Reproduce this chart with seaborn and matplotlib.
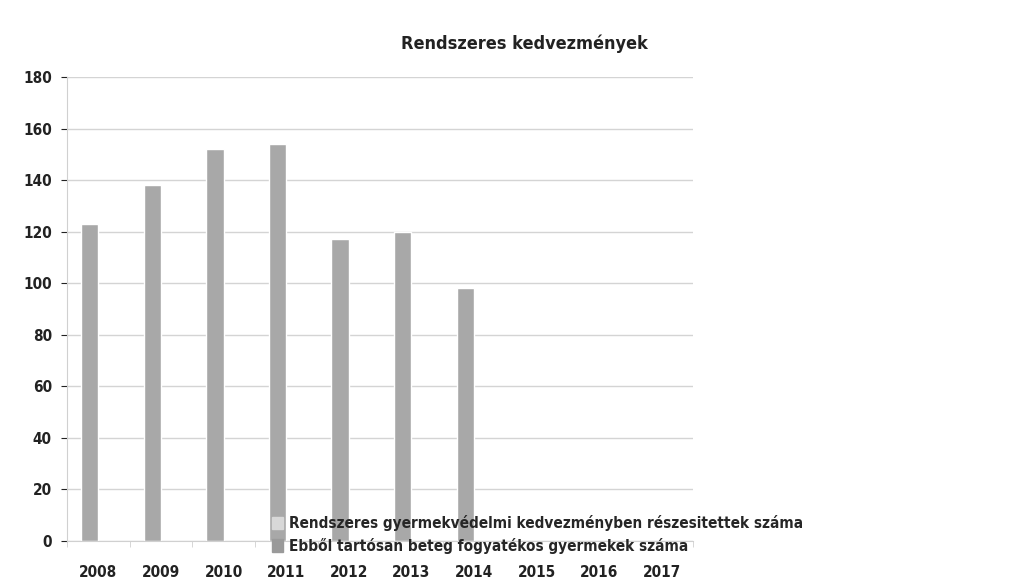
import numpy as np
import pandas as pd
import seaborn as sns
import matplotlib.pyplot as plt

# Chart data
years = ['2008', '2009', '2010', '2011', '2012', '2013', '2014', '2015', '2016', '2017']
rendszeres = [123, 138, 152, 154, 117, 120, 98, np.nan, np.nan, np.nan]
tartosan_beteg = [0, 0, 0, 0, 0, 0, 0, np.nan, np.nan, np.nan]
series_names = ['Rendszeres gyermekvédelmi kedvezményben részesitettek száma',
                'Ebből tartósan beteg fogyatékos gyermekek száma']

df = pd.DataFrame({'év': years, series_names[0]: rendszeres, series_names[1]: tartosan_beteg})
df = df.melt(id_vars='év', var_name='sorozat', value_name='érték')

sns.set_style('white')
plt.rcParams['font.family'] = ['DejaVu Sans']
plt.rcParams['font.stretch'] = 'condensed'

fig = plt.figure(figsize=(10.33, 5.83), dpi=100)
ax = fig.add_axes([0.065, 0.072, 0.606, 0.796])

sns.barplot(data=df, x='év', y='érték', hue='sorozat', palette=['#a8a8a8', '#9a9a9a'],
            width=0.56, gap=0.0, ax=ax, legend=False)

ax.set_xlim(-0.5, 9.5)
ax.set_ylim(0, 180)
ax.set_yticks(range(0, 181, 20))
ax.yaxis.grid(True, color='#d4d4d4', linewidth=1.0)
ax.set_axisbelow(True)
ax.set_xlabel('')
ax.set_ylabel('')
for side in ['top', 'right']:
    ax.spines[side].set_visible(False)
ax.spines['left'].set_color('#d0d0d0')
ax.spines['bottom'].set_color('#d0d0d0')

# small category-boundary ticks like the Excel original
ax.set_xticks(np.arange(-0.5, 10, 1), minor=True)
ax.tick_params(axis='x', which='minor', length=4, color='#d0d0d0', bottom=True)
ax.tick_params(axis='y', which='major', left=True, length=4, color='#d0d0d0')
ax.tick_params(axis='y', labelsize=11, pad=7, colors='#222222')
ax.tick_params(axis='x', which='major', length=0, labelsize=11, pad=17, colors='#222222')
for lbl in ax.get_xticklabels() + ax.get_yticklabels():
    lbl.set_fontweight('bold')

fig.text(0.508, 0.925, 'Rendszeres kedvezmények', ha='center', va='center',
         fontsize=13, fontweight='bold', color='#222222')

# legend sits low over the plot, just above the axis labels
handles = [plt.Rectangle((0, 0), 1, 1, color=c) for c in ['#d8d8d8', '#9a9a9a']]
fig.legend(handles, series_names, loc='upper left', bbox_to_anchor=(0.25, 0.14),
           frameon=False, prop={'weight': 'bold', 'size': 11},
           handlelength=0.7, handleheight=0.9, handletextpad=0.4, labelspacing=0.45)

fig.savefig('out.png', dpi=100)
